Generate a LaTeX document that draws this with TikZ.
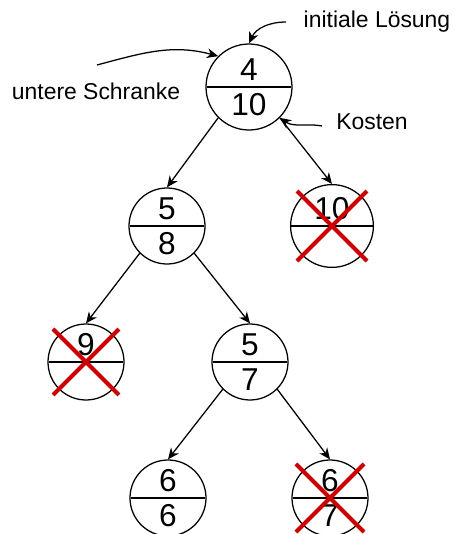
\documentclass[tikz,border=0pt]{standalone}
\usepackage{fontspec}
\setmainfont{Liberation Sans}
\usetikzlibrary{shapes.multipart,arrows.meta}

\definecolor{crossred}{RGB}{204,0,0}

\begin{document}
\begin{tikzpicture}[
	bbnode/.style={circle split,draw=black,line width=0.9pt,minimum size=1.9cm,
		inner sep=4pt,font=\fontsize{22.5}{26}\selectfont},
	label/.style={font=\fontsize{16.3}{19}\selectfont,inner sep=0pt},
	tree/.style={line width=0.9pt,-{Stealth[length=8pt,width=7pt,inset=2.5pt]}},
	cross/.style={crossred,line width=2.8pt}
	]
	\useasboundingbox (0,0) rectangle (11.35,13.35);
	
	\node[bbnode,minimum size=2.15cm] (a) at (6.225, 11.175) {4 \nodepart{lower} 10};
	\node[bbnode]                     (b) at (4.175, 7.7)    {5 \nodepart{lower} 8};
	\node[bbnode,minimum size=2cm]    (c) at (8.3, 7.7)      {10 \nodepart{lower} \phantom{0}};
	\node[bbnode]                     (d) at (2.15, 4.3)     {9 \nodepart{lower} \phantom{0}};
	\node[bbnode]                     (e) at (6.25, 4.3)     {5 \nodepart{lower} 7};
	\node[bbnode]                     (f) at (4.2, 0.9)      {6 \nodepart{lower} 6};
	\node[bbnode]                     (g) at (8.25, 0.9)     {6 \nodepart{lower} 7};
	
	\node[label] (lsg) at (9.425, 12.8)  {initiale Lösung};
	\node[label] (us)  at (2.4, 11.075)  {untere Schranke};
	\node[label] (ko)  at (9.3, 10.3)    {Kosten};
	
	\coordinate (lsgs) at (7.15, 12.8);
	\coordinate (uss)  at (2.425, 11.725);
	\coordinate (kos)  at (8.05, 10.2);
	
	\path[tree] (a.south west) edge (b.north);
	\path[tree] (a.south east) edge (c.north);
	\path[tree] (b.south west) edge (d.north);
	\path[tree] (b.south east) edge (e.north);
	\path[tree] (e.south west) edge (f.north);
	\path[tree] (e.south east) edge (g.north);
	
	\draw[tree] (lsgs) to[out=180,in=65] (a.north);
	\draw[tree] (uss)  to[out=15,in=165] (a.north west);
	\draw[tree] (kos)  to[out=170,in=-35] (a.south east);
	
	% crossed out nodes
	\foreach \n/\s in {c/0.875,d/0.825,g/0.85} {
		\draw[cross] ([shift={(-\s,\s)}]\n.center) -- ([shift={(\s,-\s)}]\n.center);
		\draw[cross] ([shift={(\s,\s)}]\n.center) -- ([shift={(-\s,-\s)}]\n.center);
	}
	
\end{tikzpicture}
\end{document}
